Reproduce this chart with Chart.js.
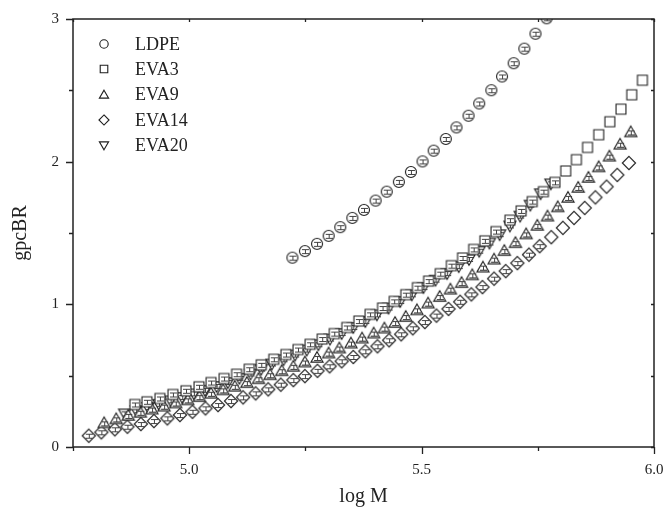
<!DOCTYPE html>
<html>
<head>
<meta charset="utf-8">
<script src="https://cdn.jsdelivr.net/npm/chart.js@4/dist/chart.umd.min.js"></script>
<style>
html,body{margin:0;padding:0;background:#fff;}
#wrap{width:664px;height:511px;}
</style>
</head>
<body>
<div id="wrap"><canvas id="c" width="664" height="511"></canvas></div>
<script>
// ---- data ----
const seriesNames = ['LDPE', 'EVA3', 'EVA9', 'EVA14', 'EVA20'];

const ldpeX = [5.222,5.249,5.275,5.300,5.325,5.351,5.376,5.401,5.425,5.451,5.477,5.502,5.526,5.552,5.575,5.601,5.624,5.650,5.673,5.698,5.721,5.745,5.769];
const ldpeY = [1.327,1.373,1.424,1.480,1.541,1.606,1.662,1.727,1.790,1.858,1.928,2.002,2.077,2.159,2.240,2.322,2.408,2.501,2.597,2.690,2.792,2.897,3.005];

const eva3X = [4.883,4.909,4.937,4.965,4.993,5.021,5.047,5.075,5.102,5.129,5.155,5.182,5.208,5.234,5.260,5.286,5.312,5.339,5.365,5.389,5.416,5.441,5.466,5.491,5.515,5.540,5.564,5.588,5.612,5.636,5.660,5.690,5.714,5.738,5.762,5.787,5.810,5.833,5.857,5.881,5.905,5.929,5.952,5.975];
const eva3Y = [0.298,0.317,0.340,0.368,0.394,0.422,0.452,0.480,0.510,0.545,0.576,0.615,0.648,0.683,0.720,0.757,0.795,0.838,0.883,0.930,0.974,1.021,1.068,1.117,1.163,1.215,1.271,1.325,1.385,1.445,1.510,1.590,1.655,1.720,1.790,1.855,1.935,2.014,2.100,2.189,2.280,2.368,2.469,2.571];

const eva9X = [4.817,4.843,4.869,4.895,4.920,4.946,4.971,4.997,5.022,5.047,5.073,5.098,5.124,5.149,5.174,5.199,5.224,5.249,5.275,5.300,5.323,5.348,5.372,5.397,5.420,5.443,5.466,5.490,5.514,5.539,5.562,5.586,5.609,5.632,5.656,5.678,5.702,5.725,5.749,5.771,5.793,5.815,5.837,5.859,5.881,5.904,5.927,5.950];
const eva9Y = [0.166,0.194,0.218,0.240,0.262,0.283,0.305,0.327,0.350,0.373,0.397,0.422,0.448,0.475,0.503,0.531,0.562,0.592,0.624,0.655,0.690,0.725,0.760,0.795,0.830,0.869,0.911,0.958,1.005,1.051,1.103,1.149,1.203,1.257,1.313,1.373,1.429,1.490,1.550,1.615,1.680,1.746,1.816,1.886,1.960,2.035,2.119,2.205];

const eva14X = [4.784,4.811,4.840,4.867,4.896,4.924,4.953,4.980,5.007,5.035,5.062,5.090,5.116,5.143,5.170,5.197,5.224,5.249,5.276,5.302,5.328,5.353,5.379,5.405,5.430,5.456,5.481,5.507,5.532,5.558,5.583,5.607,5.631,5.656,5.681,5.706,5.731,5.754,5.779,5.804,5.828,5.851,5.874,5.898,5.921,5.946];
const eva14Y = [0.079,0.103,0.124,0.142,0.161,0.182,0.201,0.224,0.247,0.271,0.294,0.322,0.348,0.376,0.404,0.437,0.469,0.497,0.534,0.566,0.601,0.631,0.671,0.706,0.748,0.790,0.832,0.876,0.921,0.968,1.018,1.070,1.121,1.180,1.233,1.289,1.348,1.408,1.471,1.536,1.606,1.676,1.750,1.825,1.907,1.991];

const eva20X = [4.861,4.886,4.911,4.935,4.960,4.985,5.010,5.034,5.059,5.083,5.108,5.132,5.155,5.178,5.203,5.228,5.253,5.278,5.303,5.328,5.353,5.379,5.404,5.429,5.454,5.479,5.504,5.530,5.555,5.580,5.602,5.624,5.646,5.668,5.690,5.712,5.734,5.756,5.778];
const eva20Y = [0.236,0.258,0.281,0.303,0.327,0.351,0.376,0.401,0.428,0.455,0.485,0.515,0.549,0.585,0.615,0.648,0.683,0.720,0.760,0.799,0.841,0.883,0.930,0.977,1.023,1.070,1.121,1.173,1.219,1.268,1.318,1.376,1.433,1.492,1.553,1.622,1.699,1.779,1.848];

const xTickLabels = ['5.0', '5.5', '6.0'];
const yTickLabels = ['0', '1', '2', '3'];
const xMajor = [5.0, 5.5, 6.0], xMinor = [4.75, 5.25, 5.75];
const yMajor = [0, 1, 2, 3], yMinor = [0.5, 1.5, 2.5];

// ---- marker drawing ----
const INK = '#1e1e1e';
function shapePath(ctx, shape, cx, cy, r) {
  ctx.beginPath();
  if (shape === 'circle') {
    ctx.arc(cx, cy, r, 0, Math.PI * 2);
  } else if (shape === 'square') {
    ctx.rect(cx - r * 0.9, cy - r * 0.9, r * 1.8, r * 1.8);
  } else if (shape === 'up') {
    ctx.moveTo(cx, cy - r * 1.15);
    ctx.lineTo(cx + r * 1.1, cy + r * 0.75);
    ctx.lineTo(cx - r * 1.1, cy + r * 0.75);
    ctx.closePath();
  } else if (shape === 'diamond') {
    ctx.moveTo(cx, cy - r * 1.2);
    ctx.lineTo(cx + r * 1.2, cy);
    ctx.lineTo(cx, cy + r * 1.2);
    ctx.lineTo(cx - r * 1.2, cy);
    ctx.closePath();
  } else if (shape === 'down') {
    ctx.moveTo(cx, cy + r * 1.15);
    ctx.lineTo(cx + r * 1.1, cy - r * 0.75);
    ctx.lineTo(cx - r * 1.1, cy - r * 0.75);
    ctx.closePath();
  }
}
function makeMarker(shape, bar, r) {
  const s = 20, c = 10;
  const cv = document.createElement('canvas');
  cv.width = s; cv.height = s;
  const ctx = cv.getContext('2d');
  ctx.fillStyle = '#fff';
  shapePath(ctx, shape, c, c, r);
  ctx.fill();
  ctx.strokeStyle = INK;
  ctx.lineWidth = 1.1;
  ctx.stroke();
  if (bar) {
    ctx.strokeStyle = '#444';
    ctx.lineWidth = 1;
    ctx.beginPath();
    ctx.moveTo(c + 0.5, c - bar + 0.5); ctx.lineTo(c + 0.5, c + bar + 0.5);
    ctx.moveTo(c - 3, c - bar + 0.5); ctx.lineTo(c + 4, c - bar + 0.5);
    ctx.moveTo(c - 3, c + bar + 0.5); ctx.lineTo(c + 4, c + bar + 0.5);
    ctx.stroke();
  }
  return cv;
}
const shapes = ['circle', 'square', 'up', 'diamond', 'down'];
const markersBar = shapes.map(s => makeMarker(s, 2, 5.5));
const markersPlain = shapes.map(s => makeMarker(s, 0, 5.5));
const markersLegend = shapes.map(s => makeMarker(s, 0, 4.2));

function pts(xs, ys) { return xs.map((x, i) => ({ x: x, y: ys[i] })); }
const allX = [ldpeX, eva3X, eva9X, eva14X, eva20X];
const allY = [ldpeY, eva3Y, eva9Y, eva14Y, eva20Y];

const datasets = seriesNames.map((name, k) => ({
  label: name,
  data: pts(allX[k], allY[k]),
  showLine: false,
  pointStyle: (ctx) => {
    const v = ctx.raw;
    if (!v) return markersBar[k];
    if ((k === 1 && v.x > 5.8) || (k === 3 && v.x > 5.77)) return markersPlain[k];
    return markersBar[k];
  },
  pointRadius: 5,
  borderColor: INK,
  backgroundColor: '#fff'
}));

// custom plugin: frame, tick marks, legend
const framePlugin = {
  id: 'frame',
  afterDraw(chart) {
    const { ctx, chartArea: a, scales } = chart;
    ctx.save();
    ctx.strokeStyle = '#222';
    ctx.lineWidth = 1.5;
    ctx.strokeRect(a.left, a.top, a.right - a.left, a.bottom - a.top);
    ctx.lineWidth = 1.3;
    ctx.beginPath();
    const xt = (v, len) => {
      const px = Math.round(scales.x.getPixelForValue(v)) + 0.5;
      ctx.moveTo(px, a.bottom); ctx.lineTo(px, a.bottom + len);
      ctx.moveTo(px, a.top); ctx.lineTo(px, a.top + 3);
    };
    const yt = (v, len) => {
      const py = Math.round(scales.y.getPixelForValue(v)) + 0.5;
      ctx.moveTo(a.left, py); ctx.lineTo(a.left - len, py);
      ctx.moveTo(a.right, py); ctx.lineTo(a.right - 3, py);
    };
    xMajor.forEach(v => xt(v, 7));
    xMinor.forEach(v => xt(v, 4));
    yMajor.forEach(v => yt(v, 7));
    yMinor.forEach(v => yt(v, 4));
    ctx.stroke();

    // legend
    const lx = 104, tx = 135, y0 = 44, dy = 25.3;
    ctx.font = '18px "Liberation Serif", "DejaVu Serif", serif';
    ctx.fillStyle = '#222';
    ctx.textBaseline = 'middle';
    seriesNames.forEach((n, i) => {
      const y = y0 + i * dy;
      ctx.drawImage(markersLegend[i], lx - 10, Math.round(y) - 10);
      ctx.fillText(n, tx, y + 1);
    });
    ctx.restore();
  }
};

const serif = '"Liberation Serif", "DejaVu Serif", serif';
const hiddenGrid = { display: true, drawOnChartArea: false, drawTicks: true, tickLength: 14, color: 'rgba(0,0,0,0)' };
new Chart(document.getElementById('c'), {
  type: 'scatter',
  data: { datasets },
  options: {
    responsive: false,
    animation: false,
    layout: { padding: { top: 19, right: 10, left: 0, bottom: 0 } },
    plugins: { legend: { display: false }, tooltip: { enabled: false } },
    scales: {
      x: {
        type: 'linear', min: 4.75, max: 6.0,
        afterFit: (s) => { s.height = 64; },
        border: { display: false },
        grid: hiddenGrid,
        ticks: {
          stepSize: 0.25, autoSkip: false, maxRotation: 0, padding: 0,
          color: '#222', font: { family: serif, size: 15 },
          callback: (v) => { const t = Number(v).toFixed(1); return (Math.abs(v * 2 - Math.round(v * 2)) < 1e-6 && xTickLabels.includes(t)) ? t : ''; }
        },
        title: { display: true, text: 'log M', color: '#222', font: { family: serif, size: 20 }, padding: { top: 0, bottom: 2 } }
      },
      y: {
        type: 'linear', min: 0, max: 3,
        afterFit: (s) => { s.width = 73; },
        border: { display: false },
        grid: hiddenGrid,
        ticks: {
          stepSize: 0.5, autoSkip: false, padding: 0,
          color: '#222', font: { family: serif, size: 15 },
          callback: (v) => { const t = String(v); return yTickLabels.includes(t) ? t : ''; }
        },
        title: { display: true, text: 'gpcBR', color: '#222', font: { family: serif, size: 20 }, padding: { top: 9, bottom: 0 } }
      }
    }
  },
  plugins: [framePlugin]
});
</script>
</body>
</html>
